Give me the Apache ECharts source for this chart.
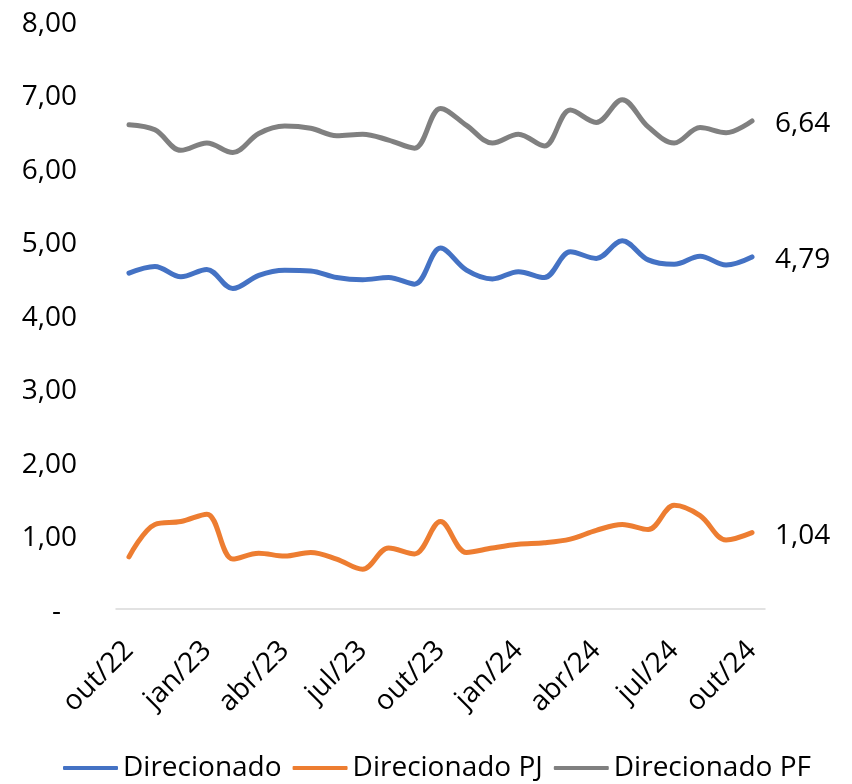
<!DOCTYPE html>
<html>
<head>
<meta charset="utf-8">
<script src="https://cdn.jsdelivr.net/npm/echarts@6/dist/echarts.min.js"></script>
<style>
  html, body { margin: 0; padding: 0; background: #ffffff; }
  #chart { width: 852px; height: 784px; }
</style>
</head>
<body>
<div id="chart"></div>
<script>
// meses (out/22 a out/24)
const months = ['out/22', 'nov/22', 'dez/22', 'jan/23', 'fev/23', 'mar/23', 'abr/23', 'mai/23', 'jun/23',
  'jul/23', 'ago/23', 'set/23', 'out/23', 'nov/23', 'dez/23', 'jan/24', 'fev/24', 'mar/24', 'abr/24',
  'mai/24', 'jun/24', 'jul/24', 'ago/24', 'set/24', 'out/24'];

const direcionado = [4.57, 4.66, 4.52, 4.62, 4.36, 4.54, 4.61, 4.60, 4.51, 4.48, 4.51, 4.42, 4.91,
  4.61, 4.49, 4.59, 4.51, 4.86, 4.77, 5.01, 4.75, 4.69, 4.80, 4.68, 4.79];

const direcionadoPJ = [0.71, 1.15, 1.19, 1.29, 0.68, 0.76, 0.72, 0.77, 0.68, 0.54, 0.83, 0.75, 1.19,
  0.77, 0.83, 0.88, 0.90, 0.95, 1.07, 1.15, 1.08, 1.41, 1.27, 0.94, 1.04];

const direcionadoPF = [6.59, 6.52, 6.24, 6.34, 6.21, 6.47, 6.57, 6.54, 6.44, 6.46, 6.38, 6.27, 6.81,
  6.58, 6.34, 6.46, 6.30, 6.79, 6.62, 6.93, 6.56, 6.34, 6.55, 6.48, 6.64];

const FONT = '"Open Sans", "Noto Sans", sans-serif';
const FS = 28;

const fmt = v => v.toFixed(2).replace('.', ',');

const myChart = echarts.init(document.getElementById('chart'), null, { renderer: 'canvas' });

const lineSeries = (name, data, color) => ({
  name: name,
  type: 'line',
  data: data,
  smooth: 0.35,
  symbol: 'none',
  lineStyle: { width: 5, color: color, cap: 'round' },
  itemStyle: { color: color },
  endLabel: {
    show: true,
    distance: 23,
    offset: [0, 3],
    color: '#000000',
    fontFamily: FONT,
    fontSize: FS,
    formatter: p => fmt(p.value)
  }
});

const option = {
  animation: false,
  backgroundColor: '#ffffff',
  grid: { left: 116, right: 87, top: 21, bottom: 175 },
  legend: {
    left: 58,
    top: 749,
    icon: 'roundRect',
    itemWidth: 55,
    itemHeight: 4,
    itemGap: 11,
    textStyle: { color: '#000000', fontFamily: FONT, fontSize: FS },
    data: ['Direcionado', 'Direcionado PJ', 'Direcionado PF']
  },
  xAxis: {
    type: 'category',
    data: months,
    boundaryGap: true,
    axisLine: { lineStyle: { color: '#d9d9d9', width: 1.5 } },
    axisTick: { show: false },
    axisLabel: {
      interval: 2,
      rotate: 45,
      margin: 37,
      color: '#000000',
      fontFamily: FONT,
      fontSize: FS
    }
  },
  yAxis: {
    type: 'value',
    min: 0,
    max: 8,
    interval: 1,
    axisLine: { show: false },
    axisTick: { show: false },
    splitLine: { show: false },
    axisLabel: {
      margin: 39,
      padding: [6, 0, 0, 0],
      color: '#000000',
      fontFamily: FONT,
      fontSize: FS,
      formatter: v => (v === 0 ? '{dash|-}' : fmt(v)),
      rich: { dash: { fontFamily: FONT, fontSize: FS, color: '#000000', padding: [0, 16, 0, 0] } }
    }
  },
  series: [
    lineSeries('Direcionado', direcionado, '#4472c4'),
    lineSeries('Direcionado PJ', direcionadoPJ, '#ed7d31'),
    lineSeries('Direcionado PF', direcionadoPF, '#808080')
  ]
};

myChart.setOption(option);
</script>
</body>
</html>
